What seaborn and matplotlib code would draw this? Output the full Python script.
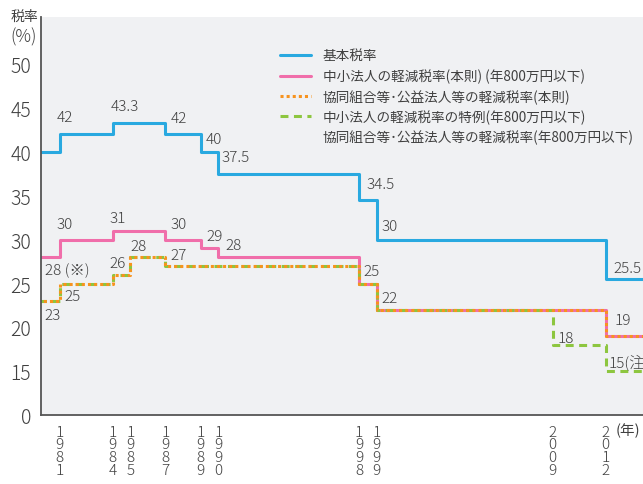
import seaborn as sns
import matplotlib.pyplot as plt
from matplotlib.lines import Line2D

## Data: tax rates (%) from each change year (step chart)
basic_years = [1979, 1981, 1984, 1987, 1989, 1990, 1998, 1999, 2012, 2015]
basic_rates = [40, 42, 43.3, 42, 40, 37.5, 34.5, 30, 25.5, 25.5]

sme_years = [1979, 1981, 1984, 1987, 1989, 1990, 1998, 1999, 2012, 2015]
sme_rates = [28, 30, 31, 30, 29, 28, 25, 22, 19, 19]

coop_years = [1979, 1981, 1984, 1985, 1987, 1998, 1999, 2012, 2015]
coop_rates = [23, 25, 26, 28, 27, 25, 22, 19, 19]

special_years = [1979, 1981, 1984, 1985, 1987, 1998, 1999, 2009, 2012, 2015]
special_rates = [23, 25, 26, 28, 27, 25, 22, 18, 15, 15]

tick_years = [1981, 1984, 1985, 1987, 1989, 1990, 1998, 1999, 2009, 2012]
y_ticks = [10, 15, 20, 25, 30, 35, 40, 45, 50]
y_tick_labels = ["0", "15", "20", "25", "30", "35", "40", "45", "50"]

legend_labels = [
    "基本税率",
    "中小法人の軽減税率(本則) (年800万円以下)",
    "協同組合等･公益法人等の軽減税率(本則)",
    "中小法人の軽減税率の特例(年800万円以下)",
    "協同組合等･公益法人等の軽減税率(年800万円以下)",
]

## Style
sns.set_theme(style="white")
plt.rcParams["font.family"] = ["Noto Sans CJK JP", "DejaVu Sans"]
text_color = "#404040"
c_blue = "#29a9e0"
c_pink = "#f06eaa"
c_orange = "#f7931e"
c_green = "#8dc63f"

fig = plt.figure(figsize=(6.43, 4.85), dpi=100)
ax = fig.add_axes([41 / 643, 1 - 416 / 485, 602 / 643, 398 / 485])
ax.set_facecolor("#f0f1f3")

## Lines
sns.lineplot(x=basic_years, y=basic_rates, ax=ax, color=c_blue, linewidth=2.2,
             drawstyle="steps-post", estimator=None, label=legend_labels[0])
sns.lineplot(x=sme_years, y=sme_rates, ax=ax, color=c_pink, linewidth=2.2,
             drawstyle="steps-post", estimator=None, label=legend_labels[1])
sns.lineplot(x=special_years, y=special_rates, ax=ax, color=c_green, linewidth=2.2,
             drawstyle="steps-post", estimator=None, linestyle=(0, (2.6, 1.8)),
             label=legend_labels[3])
sns.lineplot(x=coop_years, y=coop_rates, ax=ax, color=c_orange, linewidth=2.2,
             drawstyle="steps-post", estimator=None, linestyle=(0, (1, 1)),
             label=legend_labels[2])

## Value labels (year, rate position, text)
value_labels = [
    (1980.8, 44.0, "42"), (1983.9, 45.3, "43.3"), (1987.3, 43.9, "42"),
    (1989.3, 41.5, "40"), (1990.2, 39.4, "37.5"), (1998.4, 36.4, "34.5"),
    (1999.25, 31.6, "30"), (2012.45, 26.8, "25.5"),
    (1980.8, 31.8, "30"), (1983.8, 32.5, "31"), (1987.3, 31.8, "30"),
    (1989.3, 30.4, "29"), (1990.4, 29.4, "28"), (1998.25, 26.4, "25"),
    (1999.25, 23.4, "22"), (2012.5, 20.8, "19"),
    (1980.15, 26.6, "28 (※)"), (1981.25, 23.6, "25"), (1980.15, 21.4, "23"),
    (1983.8, 27.3, "26"), (1985.0, 29.3, "28"), (1987.3, 28.3, "27"),
    (2009.3, 18.8, "18"), (2012.15, 16.1, "15(注)"),
]
for x, y, s in value_labels:
    ax.text(x, y, s, fontsize=11, color=text_color, ha="left", va="center",
            fontweight="light", clip_on=False)

## Axes
ax.set_xlim(1979.93, 2014.13)
ax.set_ylim(10, 55.4)
ax.set_xticks(tick_years)
ax.set_xticklabels(["\n".join(str(y)) for y in tick_years])
ax.set_yticks(y_ticks)
ax.set_yticklabels(y_tick_labels)
ax.set_xlabel("")
ax.set_ylabel("")
ax.tick_params(axis="y", direction="in", length=6, width=1, color="#555555",
               labelsize=14, labelcolor=text_color, pad=7)
ax.tick_params(axis="x", direction="in", length=6, width=1, color="#555555",
               labelsize=11, labelcolor=text_color, pad=7)
for t in ax.get_xticklabels() + ax.get_yticklabels():
    t.set_fontweight("light")
for t in ax.get_xticklabels():
    t.set_linespacing(0.88)
for side in ["top", "right"]:
    ax.spines[side].set_visible(False)
for side in ["left", "bottom"]:
    ax.spines[side].set_color("#555555")
    ax.spines[side].set_linewidth(1.3)

fig.text(24 / 643, 1 - 16.5 / 485, "税率", ha="center", va="center",
         fontsize=10, color=text_color)
fig.text(24 / 643, 1 - 37 / 485, "(%)", ha="center", va="center",
         fontsize=12.5, color=text_color, fontweight="light")
fig.text(628 / 643, 1 - 430.5 / 485, "(年)", ha="center", va="center",
         fontsize=10.5, color=text_color)

## Legend
handles = {line.get_label(): line for line in ax.get_lines()}
leg_handles = [handles[lab] for lab in legend_labels[:4]]
leg_handles.append(Line2D([], [], color="none"))
ax.legend(leg_handles, legend_labels, loc="upper left",
          bbox_to_anchor=(0.397, 0.919), frameon=False, fontsize=9.8,
          handlelength=2.3, handletextpad=0.85, labelspacing=0.42,
          borderpad=0, borderaxespad=0, labelcolor=text_color)

fig.savefig("out.png", dpi=100)
